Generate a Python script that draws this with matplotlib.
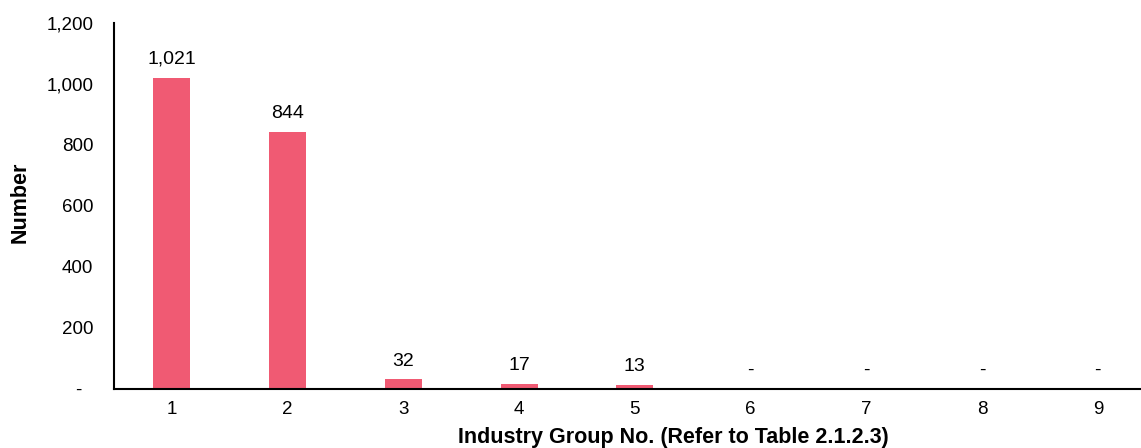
import numpy as np
import matplotlib.pyplot as plt
from matplotlib.ticker import FuncFormatter

groups = ['1', '2', '3', '4', '5', '6', '7', '8', '9']
counts = [1021, 844, 32, 17, 13, 0, 0, 0, 0]

plt.rcParams['font.family'] = ['Liberation Sans', 'DejaVu Sans']

fig = plt.figure(figsize=(11.41, 4.48), dpi=100)
ax = fig.add_axes([0.0999, 0.1317, 0.9001, 0.817])

x = np.arange(1, len(groups) + 1)
ax.bar(x, counts, width=0.32, color='#F05A73')

for xi, c in zip(x, counts):
    lab = '-' if c == 0 else f'{c:,}'
    ax.annotate(lab, (xi, c), xytext=(0, 7), textcoords='offset points',
                ha='center', va='bottom', fontsize=14)

ax.set_xlim(0.5, 9.373)
ax.set_ylim(0, 1200)
ax.set_xticks(x, groups)
ax.set_yticks(np.arange(0, 1201, 200))
ax.yaxis.set_major_formatter(FuncFormatter(lambda v, p: '-  ' if v == 0 else f'{int(v):,}'))
ax.tick_params(axis='both', length=0, labelsize=13.5)
ax.tick_params(axis='y', pad=15)
ax.tick_params(axis='x', pad=9)

for s in ['top', 'right']:
    ax.spines[s].set_visible(False)
for s in ['left', 'bottom']:
    ax.spines[s].set_linewidth(1.5)

ax.set_xlabel('Industry Group No. (Refer to Table 2.1.2.3)', fontsize=15.5, fontweight='bold')
ax.xaxis.set_label_coords(0.5447, -0.103)
ax.set_ylabel('Number', fontsize=15.5, fontweight='bold')
ax.yaxis.set_label_coords(-0.081, 0.51)

fig.savefig('out.png', dpi=100)
